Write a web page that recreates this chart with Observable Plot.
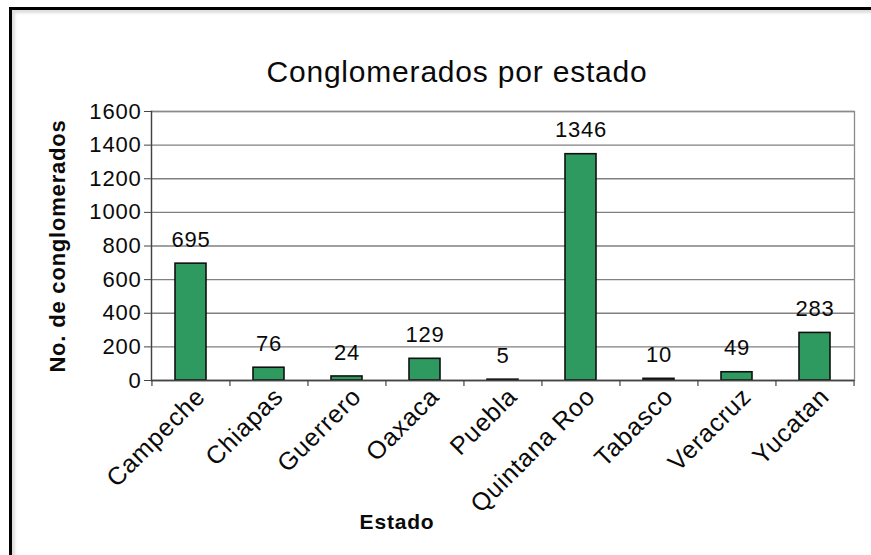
<!DOCTYPE html>
<html>
<head>
<meta charset="utf-8">
<script src="https://cdn.jsdelivr.net/npm/d3@7"></script>
<script src="https://cdn.jsdelivr.net/npm/@observablehq/plot@0.6"></script>
<style>
  html, body { margin: 0; padding: 0; background: #fff; overflow: hidden; }
  #wrap { position: relative; width: 871px; height: 555px; overflow: hidden; }
  #border { position: absolute; left: 9px; top: 7px; width: 900px; height: 600px;
            border-left: 3px solid #000; border-top: 3px solid #000;
            box-shadow: inset 3px 3px 3px #ddd; pointer-events: none; }
  #chart { position: absolute; left: 0; top: 0; }
  #chart svg text { letter-spacing: 0.8px; }
</style>
</head>
<body>
<div id="wrap"><div id="chart"></div><div id="border"></div></div>
<script>
const title = "Conglomerados por estado";
const yLabel = "No. de conglomerados";
const xLabel = "Estado";
const states = ["Campeche", "Chiapas", "Guerrero", "Oaxaca", "Puebla", "Quintana Roo", "Tabasco", "Veracruz", "Yucatan"];
const counts = [695, 76, 24, 129, 5, 1346, 10, 49, 283];
const yTicks = [0, 200, 400, 600, 800, 1000, 1200, 1400, 1600];

const data = states.map((s, i) => ({state: s, count: counts[i]}));

const W = 871, H = 555, mL = 151, mR = 17, mT = 111, mB = 175;
const step = (W - mL - mR) / states.length;
const font = "'Liberation Sans', Arial, Helvetica, sans-serif";

const chart = Plot.plot({
  width: W, height: H,
  marginLeft: mL, marginRight: mR, marginTop: mT, marginBottom: mB,
  style: {fontFamily: font, fontSize: "22px", color: "#0a0a0a", background: "transparent"},
  x: {domain: states, paddingInner: 0.6, paddingOuter: 0.3, label: null},
  y: {domain: [0, 1600], label: null},
  marks: [
    Plot.gridY(yTicks, {stroke: "#808080", strokeOpacity: 1, strokeWidth: 1.3}),
    Plot.frame({stroke: "#8a8a8a", strokeWidth: 1.3}),
    Plot.barY(data, {x: "state", y: "count", fill: "#2f9a5f", stroke: "#111", strokeWidth: 1.6}),
    Plot.ruleY([0], {stroke: "#444", strokeWidth: 1.3}),
    Plot.frame({anchor: "left", stroke: "#444", strokeWidth: 1.3}),
    Plot.ruleX(states, {x: d => d, y1: 0, y2: 0, insetBottom: -6, dx: -step / 2, stroke: "#444", strokeWidth: 1.2}),
    Plot.ruleX(states.slice(-1), {x: d => d, y1: 0, y2: 0, insetBottom: -6, dx: step / 2, stroke: "#444", strokeWidth: 1.2}),
    Plot.axisY({ticks: yTicks, tickFormat: d => String(d), tickSize: 7, tickPadding: 3, label: null, stroke: "#444", fontSize: 22}),
    Plot.axisX({tickRotate: -45, tickSize: 0, tickPadding: 12, dx: 10, label: null, fontSize: 25}),
    Plot.text(data, {x: "state", y: "count", text: d => String(d.count), dy: -24, lineAnchor: "middle", fontSize: 22, fill: "#0a0a0a"}),
    Plot.text([title], {text: d => d, frameAnchor: "top", dy: -39, dx: -46, lineAnchor: "middle", textAnchor: "middle", fontSize: 30, fill: "#0a0a0a"}),
    Plot.text([yLabel], {text: d => d, frameAnchor: "left", dx: -94, rotate: -90, lineAnchor: "middle", textAnchor: "middle", fontSize: 22, fontWeight: "bold", fill: "#0a0a0a"}),
    Plot.text([xLabel], {text: d => d, frameAnchor: "bottom", dx: -106, dy: 142, lineAnchor: "middle", textAnchor: "middle", fontSize: 21, fontWeight: "bold", fill: "#0a0a0a"})
  ]
});
document.getElementById("chart").appendChild(chart);
</script>
</body>
</html>
